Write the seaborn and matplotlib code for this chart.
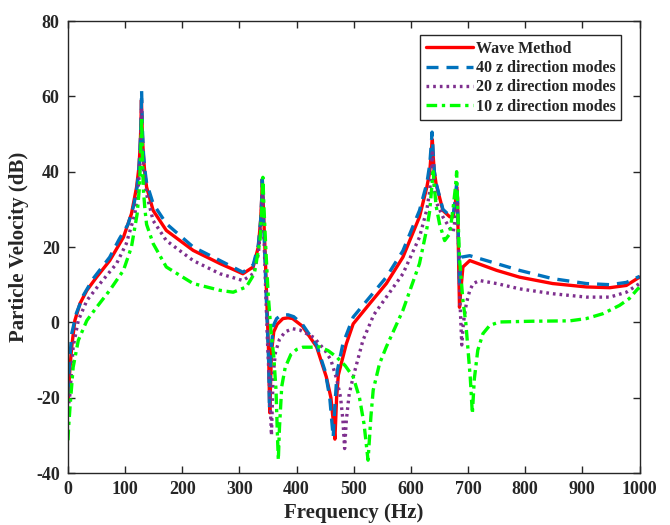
import matplotlib
matplotlib.use("Agg")
import matplotlib.pyplot as plt
import seaborn as sns
import pandas as pd

# Wave Method (reference solution)
wave_f = [0, 1, 3.5, 6.5, 12, 21, 33, 50, 73, 97, 111, 120, 124, 126, 127.5, 128.5,
          130, 132, 134.5, 137.5, 149, 172, 219, 266, 306, 324, 333, 337, 339, 340, 342, 345,
          348, 351, 353, 356, 360, 366, 376, 385, 393, 410, 435, 452, 460, 464, 467,
          470, 473, 478, 487, 499, 528, 557, 586, 615, 628, 633, 636, 637.5, 639, 641,
          644, 656, 668, 674, 678, 680, 681.5, 683, 685, 687, 691, 703, 750, 790, 848,
          907, 948, 977, 1000]
wave_db = [-21, -18, -12, -6.5, 0.5, 5, 8.5, 12, 16.4, 22.6, 28.8, 35.9, 41, 46, 52, 59,
           50, 44, 39.5, 35.9, 29.7, 24.4, 19.1, 15.6, 12.9, 14.7, 20, 27, 33, 38, 30, 18,
           5, -8, -24, -8, -2.5, -0.5, 1.0, 1.2, 1.0, -1, -6.5, -14.5, -20, -26, -31,
           -20, -14, -11, -5.7, -0.4, 5, 10.3, 17.3, 28, 36, 40, 46, 48.5, 44, 40,
           36.8, 29.7, 28, 28, 32, 36, 33, 20, 4, 8, 14.7, 16.4, 13.8, 12, 10.3,
           9.4, 9.2, 9.8, 12]

# 40 z direction modes
m40_f = [0, 1, 3.5, 6.5, 14.6, 27, 44, 73, 90, 105, 115, 121, 124.5, 126.5, 128, 128.8,
         130, 132, 134.5, 137.5, 149, 172, 219, 266, 306, 324, 333, 337, 339, 340, 342, 345,
         348, 351, 352.5, 355, 359, 365, 373, 385, 395, 410, 435, 450, 458, 462, 464,
         467, 471, 481, 499, 528, 557, 586, 615, 628, 633, 635.5, 637, 639, 641, 644,
         656, 668, 674, 678, 680, 681.5, 683, 685, 688, 703, 750, 790, 848, 907, 948,
         977, 1000]
m40_db = [-19, -15, -9, -3, 2.4, 7.2, 11.6, 17.3, 22.2, 26, 31, 36, 42, 48, 55, 61.5,
          52, 45, 40.5, 37, 31.5, 26.2, 20, 16.4, 13.3, 15.2, 20.5, 27, 33, 38, 28, 15,
          2, -10, -23, -8, -1, 1, 1.9, 2, 1.5, -0.5, -6, -13, -20, -27, -30.5,
          -22, -13, -5.7, 1.4, 6.7, 12, 19, 29.7, 37, 42, 47, 50.5, 45, 40, 37,
          30, 28.3, 28.5, 33, 37, 33, 22, 10, 17.3, 17.7, 15.6, 13.8, 11.6, 10.3, 10,
          10.6, 12.2]

# 20 z direction modes
m20_f = [0, 1, 3.5, 9, 18, 33, 56, 85, 102, 117, 122, 125, 127, 128.5, 130, 132, 134.5, 137.5,
         149, 172, 219, 266, 306, 324, 333, 337, 339, 340.5, 343, 346, 349, 352, 356,
         359, 363, 370, 380, 393, 405, 430, 450, 460, 470, 477, 481, 484, 487, 492,
         499, 516, 535, 557, 586, 615, 628, 633, 636, 637.5, 639, 641, 644, 656, 668,
         674, 677, 680, 681, 683, 686, 689, 692, 697, 703, 709, 720, 750, 790, 848,
         907, 948, 977, 1000]
m20_db = [-25, -22, -18.9, -6.5, 0.5, 5.8, 10.3, 15.6, 20.9, 28.8, 34, 40, 47, 57, 48, 41, 37, 34,
          27, 21.7, 16.4, 12.9, 11.1, 12.9, 18, 25, 31, 35, 22, 8, -5, -15, -30,
          -14, -8, -4.5, -2.5, -1.7, -2, -4, -7.5, -10, -15, -20, -26, -33.5, -26, -19,
          -14.5, -4.8, 2, 6.7, 12.9, 22.6, 30, 35, 41, 45, 40, 36, 32, 28, 25,
          24, 27, 33, 35, 22, 5, -6, 0, 5, 8.5, 10.3, 11.1, 10.3, 8.9, 7.6,
          6.7, 6.7, 8, 10.3]

# 10 z direction modes
m10_f = [0, 1, 3.5, 9, 18, 33, 50, 73, 97, 111, 121, 125, 127, 128.8, 130.5, 132, 134.6,
         137.5, 149, 172, 219, 266, 289, 312, 326, 336, 339, 341, 343, 346, 350, 355,
         360, 364, 366, 368, 370, 374, 380, 390, 400, 411, 425, 440, 455, 470, 485,
         499, 510, 518, 525, 530, 534, 545, 557, 586, 615, 628, 633, 636, 639, 641,
         644, 650, 659, 668, 674, 678, 680, 682, 685, 691, 696, 700, 704, 707.5, 711,
         717, 726, 738, 755, 813, 878, 907, 936, 965, 982, 997, 1000]
m10_db = [-31.3, -28, -22.5, -11.9, -4.8, 0.5, 4, 8.5, 13.8, 20, 28.8, 35.9, 44, 54.5, 42, 35, 30,
          26, 20.9, 14.7, 10.3, 8.5, 8, 9.4, 12.9, 21.7, 30, 38.5, 30, 20, 8, -2,
          -9, -18, -28, -36.5, -28, -17, -12, -8.5, -7.2, -6.6, -6.6, -6.5, -7.5, -9.2, -11.5,
          -14.5, -20, -27, -36.6, -25, -18, -11, -6.5, 3.2, 15.6, 25, 29.7, 35, 40, 36,
          31, 26.2, 21.7, 23.5, 30.6, 36, 40, 30, 17, 5.8, 0, -7.4, -15, -24.2, -15,
          -7.4, -3, -0.8, 0.1, 0.3, 0.4, 1, 2.3, 4.5, 6.3, 8.9, 9.2]

x_ticks = [0, 100, 200, 300, 400, 500, 600, 700, 800, 900, 1000]
y_ticks = [-40, -20, 0, 20, 40, 60, 80]

series = [
    ("Wave Method", wave_f, wave_db, "#FF0000", "-", 2.4),
    ("40 z direction modes", m40_f, m40_db, "#0072BD", (0, (3.6, 2.4)), 2.4),
    ("20 z direction modes", m20_f, m20_db, "#7E2F8E", (0, (0.8, 1.2)), 2.4),
    ("10 z direction modes", m10_f, m10_db, "#00FF00", (0, (3.2, 1.4, 1.0, 1.4)), 2.4),
]

sns.set_style("white")
plt.rcParams["font.family"] = ["Liberation Serif", "DejaVu Serif"]
plt.rcParams["font.weight"] = "bold"
plt.rcParams["axes.labelweight"] = "bold"

fig = plt.figure(figsize=(6.7, 5.25), dpi=100)
ax = fig.add_axes([0.1015, 0.099, 0.853, 0.861])

for name, f, db, color, ls, lw in series:
    df = pd.DataFrame({"Frequency": f, "dB": db})
    sns.lineplot(data=df, x="Frequency", y="dB", ax=ax, color=color, linestyle=ls,
                 linewidth=lw, label=name, estimator=None, sort=False)

ax.set_xlim(0, 1000)
ax.set_ylim(-40, 80)
ax.set_xticks(x_ticks)
ax.set_yticks(y_ticks)
ax.set_xticklabels([str(t) for t in x_ticks], fontsize=13, fontweight="bold")
ax.set_yticklabels([str(t) for t in y_ticks], fontsize=13, fontweight="bold")
ax.set_xlabel("Frequency (Hz)", fontsize=15, fontweight="bold", labelpad=3)
ax.set_ylabel("Particle Velocity (dB)", fontsize=15, fontweight="bold", labelpad=5)

for sp in ax.spines.values():
    sp.set_visible(True)
    sp.set_color("#262626")
    sp.set_linewidth(1.0)
ax.tick_params(direction="in", length=5, width=1, color="#262626",
               top=True, right=True, bottom=True, left=True, pad=6)

leg = ax.legend(loc="upper right", bbox_to_anchor=(0.968, 0.968), fontsize=11.5,
                frameon=True, fancybox=False, framealpha=1, edgecolor="#262626",
                handlelength=3.0, handletextpad=0.15, borderpad=0.35, labelspacing=0.2,
                borderaxespad=0)
leg.get_frame().set_linewidth(1.0)
for t in leg.get_texts():
    t.set_fontweight("bold")

fig.savefig("out.png", dpi=100)
